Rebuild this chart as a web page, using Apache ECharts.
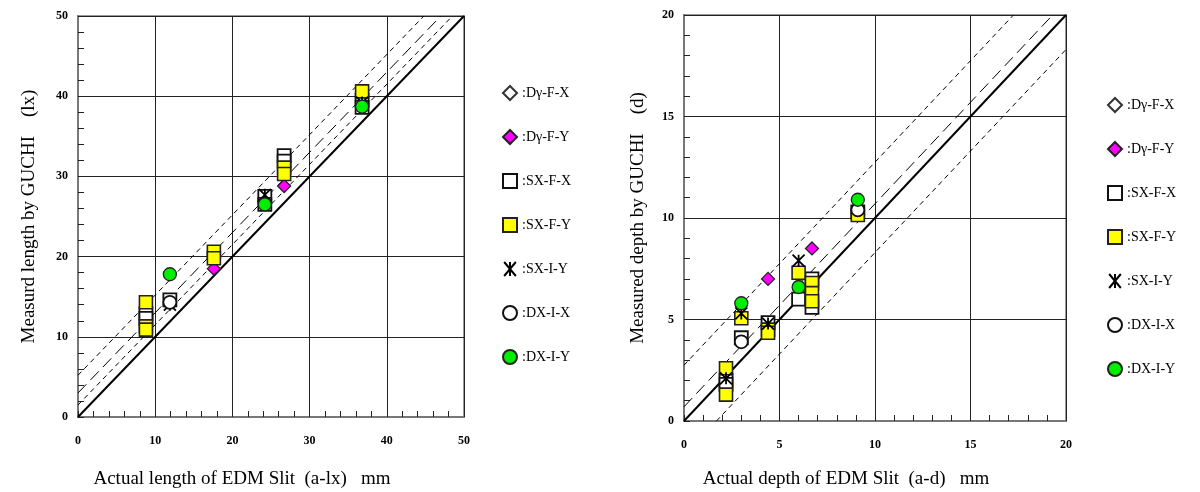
<!DOCTYPE html>
<html>
<head>
<meta charset="utf-8">
<script src="https://cdn.jsdelivr.net/npm/echarts@6/dist/echarts.min.js"></script>
<style>
  html, body { margin: 0; padding: 0; background: #fff; }
  #chart { width: 1200px; height: 492px; }
</style>
</head>
<body>
<div id="chart"></div>
<script>
// Series names (shared by both panels)
const seriesNames = ['Dγ-F-X', 'Dγ-F-Y', 'SX-F-X', 'SX-F-Y', 'SX-I-Y', 'DX-I-X', 'DX-I-Y'];

// Slit length: [actual, measured] in mm
const lenDgFX = [];
const lenDgFY = [[17.6, 18.5], [26.7, 28.8]];
const lenSxFX = [[8.8, 12.9], [8.8, 12.3], [11.9, 14.6], [24.2, 27.5], [24.2, 26.5], [26.7, 32.6], [26.7, 31.9], [36.8, 39.5], [36.8, 38.6]];
const lenSxFY = [[8.8, 14.3], [8.8, 11.3], [8.8, 10.9], [17.6, 20.6], [17.6, 19.8], [26.7, 31.1], [26.7, 30.3], [36.8, 40.6]];
const lenSxIY = [[11.9, 14.0], [24.2, 27.7], [36.8, 39.2]];
const lenDxIX = [[11.9, 14.3]];
const lenDxIY = [[11.9, 17.8], [24.2, 26.5], [36.8, 38.7]];

// Slit depth: [actual, measured] in mm
const depDgFX = [];
const depDgFY = [[2.2, 2.2], [4.4, 7.0], [6.7, 8.5]];
const depSxFX = [[2.2, 2.0], [2.2, 1.8], [3.0, 4.1], [4.4, 4.85], [6.0, 6.0], [6.7, 7.0], [6.7, 5.6], [9.1, 10.3]];
const depSxFY = [[2.2, 2.6], [2.2, 1.3], [3.0, 5.06], [4.4, 4.5], [4.4, 4.35], [6.0, 7.3], [6.7, 6.8], [6.7, 6.3], [6.7, 5.9], [9.1, 10.15]];
const depSxIY = [[2.2, 2.1], [3.0, 5.3], [4.4, 4.8], [6.0, 7.9]];
const depDxIX = [[3.0, 3.9], [9.1, 10.4]];
const depDxIY = [[3.0, 5.8], [6.0, 6.6], [9.1, 10.9]];

// Axis ranges and major intervals
const lenMax = 50, lenStep = 10;
const depMax = 20, depStep = 5;

// Offset lines y = x + c drawn on each panel
const lenLines = [
  { c: 0, type: 'solid' },
  { c: 1.5, type: 'short' },
  { c: 3, type: 'long' },
  { c: 5.2, type: 'short' }
];
const depLines = [
  { c: 0, type: 'solid' },
  { c: 0.7, type: 'long' },
  { c: 2.75, type: 'short' },
  { c: -1.7, type: 'short' }
];

// Axis titles
const lenXTitle = 'Actual length of EDM Slit  (a-lx)   mm';
const lenYTitle = 'Measurd length by GUCHI    (lx)';
const depXTitle = 'Actual depth of EDM Slit  (a-d)   mm';
const depYTitle = 'Measured depth by GUCHI    (d)';

const serif = '"Liberation Serif", "DejaVu Serif", serif';
const starPath = 'path://M0,0L10,12M10,0L0,12M5,0L5,12';

const markerStyles = {
  'Dγ-F-X': { symbol: 'diamond', size: 13, itemStyle: { color: '#ffffff', borderColor: '#333', borderWidth: 1.5 } },
  'Dγ-F-Y': { symbol: 'diamond', size: 13, itemStyle: { color: '#ff00ff', borderColor: '#222', borderWidth: 1.3 } },
  'SX-F-X': { symbol: 'rect', size: 13, itemStyle: { color: '#ffffff', borderColor: '#111', borderWidth: 1.8 } },
  'SX-F-Y': { symbol: 'rect', size: 13, itemStyle: { color: '#ffff00', borderColor: '#222', borderWidth: 1.6 } },
  'SX-I-Y': { symbol: starPath, size: 12, itemStyle: { color: 'rgba(0,0,0,0)', borderColor: '#000', borderWidth: 1.8 } },
  'DX-I-X': { symbol: 'circle', size: 13, itemStyle: { color: '#ffffff', borderColor: '#111', borderWidth: 1.8 } },
  'DX-I-Y': { symbol: 'circle', size: 13, itemStyle: { color: '#00ee00', borderColor: '#222', borderWidth: 1.3 } }
};

const lenSets = [lenDgFX, lenDgFY, lenSxFX, lenSxFY, lenSxIY, lenDxIX, lenDxIY];
const depSets = [depDgFX, depDgFY, depSxFX, depSxFY, depSxIY, depDxIX, depDxIY];

function dashOf(t) {
  if (t === 'solid') return 'solid';
  if (t === 'long') return [12, 6];
  return [5, 4];
}

function refLine(c, max, type, axisIdx) {
  // clip the line y = x + c to the square [0, max]
  const x0 = Math.max(0, -c), y0 = x0 + c;
  const x1 = Math.min(max, max - c), y1 = x1 + c;
  return {
    type: 'line',
    xAxisIndex: axisIdx, yAxisIndex: axisIdx,
    data: [[x0, y0], [x1, y1]],
    symbol: 'none', silent: true, z: 1,
    lineStyle: { color: '#000', width: type === 'solid' ? 2 : 1, type: dashOf(type) }
  };
}

function scatterSeries(sets, axisIdx) {
  return seriesNames.map((name, i) => ({
    name: name,
    type: 'scatter',
    xAxisIndex: axisIdx, yAxisIndex: axisIdx,
    data: sets[i],
    symbol: markerStyles[name].symbol,
    symbolSize: markerStyles[name].size,
    itemStyle: Object.assign({ opacity: 1 }, markerStyles[name].itemStyle),
    z: 3 + i
  }));
}

function valueAxis(idx, max, step, name, gap, isY) {
  return {
    type: 'value', gridIndex: idx, min: 0, max: max, interval: step,
    name: name, nameLocation: 'middle', nameGap: gap,
    nameRotate: isY ? 90 : 0,
    nameTextStyle: {
      fontFamily: serif, fontSize: 19, color: '#000',
      padding: isY ? 0 : [0, 58, 0, 0]
    },
    axisLine: { show: true, onZero: false, lineStyle: { color: '#777', width: 2 } },
    axisTick: { show: true, inside: true, length: 6, lineStyle: { color: '#222', width: 1 } },
    minorTick: { show: true, splitNumber: 5, length: 6, lineStyle: { color: '#222', width: 1 } },
    splitLine: { show: true, lineStyle: { color: '#222', width: 1 } },
    axisLabel: {
      fontFamily: serif, fontWeight: 'bold', fontSize: 12, color: '#000',
      margin: isY ? 10 : 18
    }
  };
}

function legendAt(left, top) {
  return {
    orient: 'vertical', left: left, top: top,
    itemWidth: 14, itemHeight: 14, itemGap: 28,
    data: seriesNames,
    formatter: n => ':' + n,
    selectedMode: false,
    textStyle: { fontFamily: serif, fontSize: 14, color: '#000' }
  };
}

const chart = echarts.init(document.getElementById('chart'), null, { renderer: 'canvas' });

const gridBase = { show: true, borderColor: '#999', borderWidth: 2, containLabel: false, outerBoundsMode: 'none' };

const option = {
  backgroundColor: '#fff',
  animation: false,
  grid: [
    Object.assign({ left: 78, top: 16, width: 386, height: 401 }, gridBase),
    Object.assign({ left: 684, top: 15, width: 382, height: 406 }, gridBase)
  ],
  xAxis: [
    valueAxis(0, lenMax, lenStep, lenXTitle, 53, false),
    valueAxis(1, depMax, depStep, depXTitle, 49, false)
  ],
  yAxis: [
    valueAxis(0, lenMax, lenStep, lenYTitle, 39, true),
    valueAxis(1, depMax, depStep, depYTitle, 36, true)
  ],
  legend: [legendAt(497, 80), legendAt(1102, 92)],
  series: [
    ...lenLines.map(l => refLine(l.c, lenMax, l.type, 0)),
    ...depLines.map(l => refLine(l.c, depMax, l.type, 1)),
    ...scatterSeries(lenSets, 0),
    ...scatterSeries(depSets, 1)
  ]
};

chart.setOption(option);
</script>
</body>
</html>
